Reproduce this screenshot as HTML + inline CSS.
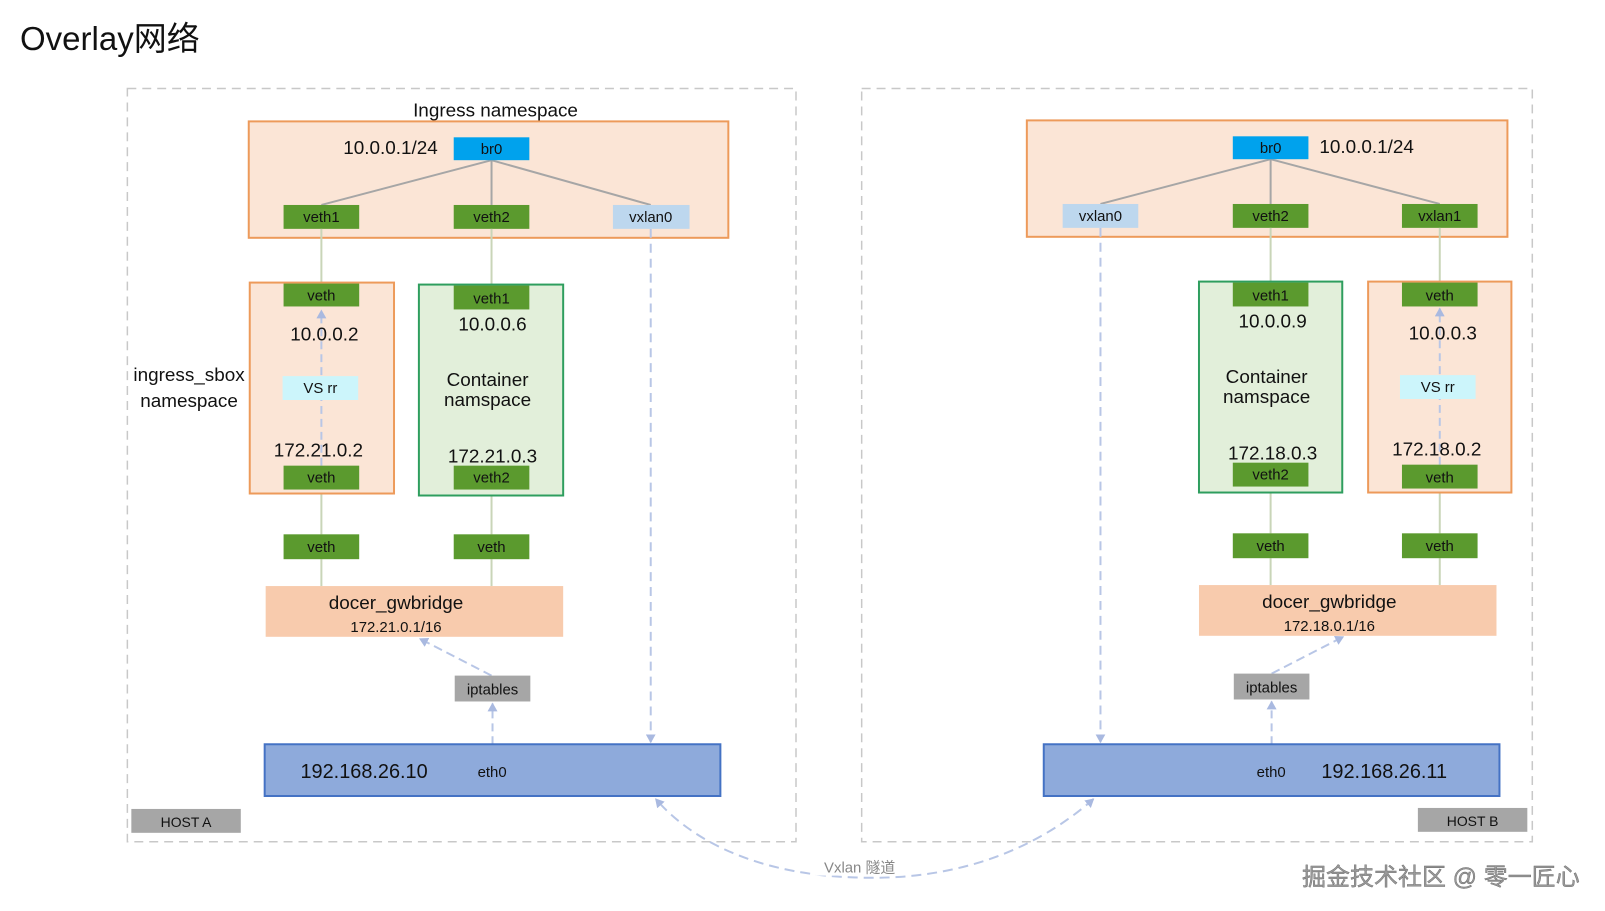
<!DOCTYPE html>
<html><head><meta charset="utf-8"><style>
html,body{margin:0;padding:0;background:#fff;}
svg{display:block;}
text{font-family:"Liberation Sans","Noto Sans CJK SC",sans-serif;}
</style></head><body>
<svg width="1605" height="911" viewBox="0 0 1605 911" xmlns="http://www.w3.org/2000/svg">
<defs>
<marker id="ar" markerWidth="10" markerHeight="10" refX="8" refY="5" orient="auto-start-reverse" markerUnits="userSpaceOnUse">
<path d="M0,0 L9,5 L0,10 z" fill="#a9b9e0"/></marker>
</defs>
<text x="20" y="50" font-size="33" fill="#111">Overlay<tspan font-family="Noto Sans CJK SC, sans-serif">网络</tspan></text>
<g transform="scale(0.995)">
<!-- host boxes -->
<rect x="128" y="89" width="672" height="757" fill="none" stroke="#c8c8c8" stroke-width="1.5" stroke-dasharray="9,6"/>
<rect x="866" y="89" width="674" height="757" fill="none" stroke="#c8c8c8" stroke-width="1.5" stroke-dasharray="9,6"/>

<!-- ===== HOST A ===== -->
<text x="498" y="117" font-size="19" text-anchor="middle" fill="#111">Ingress namespace</text>
<rect x="250" y="122" width="482" height="117" fill="#fbe5d6" stroke="#ed9a5a" stroke-width="2"/>
<text x="345" y="155" font-size="19" fill="#111">10.0.0.1/24</text>
<g stroke="#a6a6a6" stroke-width="2">
<line x1="494" y1="161" x2="323" y2="206"/><line x1="494" y1="161" x2="494" y2="206"/><line x1="494" y1="161" x2="654" y2="206"/>
</g>
<rect x="456" y="138" width="76" height="23" fill="#00a2ed"/><text x="494" y="155" font-size="15" text-anchor="middle" fill="#111">br0</text>
<g font-size="15" text-anchor="middle" fill="#111">
<rect x="285" y="206" width="76" height="24" fill="#5b9a2e"/><text x="323" y="223">veth1</text>
<rect x="456" y="206" width="76" height="24" fill="#5b9a2e"/><text x="494" y="223">veth2</text>
<rect x="616" y="206" width="77" height="24" fill="#bdd7ee"/><text x="654" y="223">vxlan0</text>
</g>
<g stroke="#c9d5b8" stroke-width="2">
<line x1="323" y1="230" x2="323" y2="285"/><line x1="494" y1="230" x2="494" y2="287"/>
<line x1="323" y1="492" x2="323" y2="537"/><line x1="494" y1="492" x2="494" y2="537"/>
<line x1="323" y1="562" x2="323" y2="589"/><line x1="494" y1="562" x2="494" y2="589"/>
</g>
<!-- sbox A -->
<text x="190" y="383" font-size="19" text-anchor="middle" fill="#111">ingress_sbox</text>
<text x="190" y="409" font-size="19" text-anchor="middle" fill="#111">namespace</text>
<rect x="251" y="284" width="145" height="212" fill="#fbe5d6" stroke="#ed9a5a" stroke-width="2"/>
<line x1="323" y1="468" x2="323" y2="312" stroke="#b8c6e6" stroke-width="2" stroke-dasharray="8,5" marker-end="url(#ar)"/>
<g font-size="15" text-anchor="middle" fill="#111">
<rect x="285" y="285" width="76" height="23" fill="#5b9a2e"/><text x="323" y="302">veth</text>
<rect x="284" y="378" width="76" height="24" fill="#ccf5fb"/><text x="322" y="395">VS rr</text>
<rect x="285" y="468" width="76" height="24" fill="#5b9a2e"/><text x="323" y="485">veth</text>
</g>
<text x="326" y="342" font-size="19" text-anchor="middle" fill="#111">10.0.0.2</text>
<text x="320" y="459" font-size="19" text-anchor="middle" fill="#111">172.21.0.2</text>
<!-- container A -->
<rect x="421" y="286" width="145" height="212" fill="#e2efda" stroke="#2e9e5e" stroke-width="2"/>
<g font-size="15" text-anchor="middle" fill="#111">
<rect x="456" y="287" width="76" height="24" fill="#5b9a2e"/><text x="494" y="305">veth1</text>
<rect x="456" y="468" width="76" height="24" fill="#5b9a2e"/><text x="494" y="485">veth2</text>
</g>
<text x="495" y="332" font-size="19" text-anchor="middle" fill="#111">10.0.0.6</text>
<text x="490" y="388" font-size="19" text-anchor="middle" fill="#111">Container</text>
<text x="490" y="408" font-size="19" text-anchor="middle" fill="#111">namspace</text>
<text x="495" y="465" font-size="19" text-anchor="middle" fill="#111">172.21.0.3</text>
<g font-size="15" text-anchor="middle" fill="#111">
<rect x="285" y="537" width="76" height="25" fill="#5b9a2e"/><text x="323" y="555">veth</text>
<rect x="456" y="537" width="76" height="25" fill="#5b9a2e"/><text x="494" y="555">veth</text>
</g>
<rect x="267" y="589" width="299" height="51" fill="#f8cbad"/>
<text x="398" y="612" font-size="19" text-anchor="middle" fill="#111">docer_gwbridge</text>
<text x="398" y="635" font-size="15" text-anchor="middle" fill="#111">172.21.0.1/16</text>
<line x1="494" y1="679" x2="422" y2="642" stroke="#b8c6e6" stroke-width="2" stroke-dasharray="9,5" marker-end="url(#ar)"/>
<rect x="457" y="679" width="76" height="26" fill="#a6a6a6"/><text x="495" y="698" font-size="15" text-anchor="middle" fill="#111">iptables</text>
<line x1="495" y1="748" x2="495" y2="707" stroke="#b8c6e6" stroke-width="2" stroke-dasharray="8,5" marker-end="url(#ar)"/>
<line x1="654" y1="230" x2="654" y2="746" stroke="#b8c6e6" stroke-width="2" stroke-dasharray="9,6" marker-end="url(#ar)"/>
<rect x="266" y="748" width="458" height="52" fill="#8eaadb" stroke="#4472c4" stroke-width="2"/>
<text x="302" y="782" font-size="20" fill="#111">192.168.26.10</text>
<text x="480" y="781" font-size="15" fill="#111">eth0</text>
<rect x="132" y="813" width="110" height="24" fill="#a6a6a6"/><text x="187" y="831" font-size="14" text-anchor="middle" fill="#111">HOST  A</text>

<!-- ===== HOST B ===== -->
<rect x="1032" y="121" width="483" height="117" fill="#fbe5d6" stroke="#ed9a5a" stroke-width="2"/>
<g stroke="#a6a6a6" stroke-width="2">
<line x1="1277" y1="160" x2="1106" y2="205"/><line x1="1277" y1="160" x2="1277" y2="205"/><line x1="1277" y1="160" x2="1447" y2="205"/>
</g>
<rect x="1239" y="137" width="76" height="23" fill="#00a2ed"/><text x="1277" y="154" font-size="15" text-anchor="middle" fill="#111">br0</text>
<text x="1326" y="154" font-size="19" fill="#111">10.0.0.1/24</text>
<g font-size="15" text-anchor="middle" fill="#111">
<rect x="1068" y="205" width="76" height="24" fill="#bdd7ee"/><text x="1106" y="222">vxlan0</text>
<rect x="1239" y="205" width="76" height="24" fill="#5b9a2e"/><text x="1277" y="222">veth2</text>
<rect x="1409" y="205" width="76" height="24" fill="#5b9a2e"/><text x="1447" y="222">vxlan1</text>
</g>
<g stroke="#c9d5b8" stroke-width="2">
<line x1="1277" y1="229" x2="1277" y2="284"/><line x1="1447" y1="229" x2="1447" y2="284"/>
<line x1="1277" y1="489" x2="1277" y2="536"/><line x1="1447" y1="491" x2="1447" y2="536"/>
<line x1="1277" y1="561" x2="1277" y2="588"/><line x1="1447" y1="561" x2="1447" y2="588"/>
</g>
<rect x="1205" y="283" width="144" height="212" fill="#e2efda" stroke="#2e9e5e" stroke-width="2"/>
<g font-size="15" text-anchor="middle" fill="#111">
<rect x="1239" y="284" width="76" height="24" fill="#5b9a2e"/><text x="1277" y="302">veth1</text>
<rect x="1239" y="465" width="76" height="24" fill="#5b9a2e"/><text x="1277" y="482">veth2</text>
</g>
<text x="1279" y="329" font-size="19" text-anchor="middle" fill="#111">10.0.0.9</text>
<text x="1273" y="385" font-size="19" text-anchor="middle" fill="#111">Container</text>
<text x="1273" y="405" font-size="19" text-anchor="middle" fill="#111">namspace</text>
<text x="1279" y="462" font-size="19" text-anchor="middle" fill="#111">172.18.0.3</text>
<rect x="1375" y="283" width="144" height="212" fill="#fbe5d6" stroke="#ed9a5a" stroke-width="2"/>
<line x1="1447" y1="467" x2="1447" y2="310" stroke="#b8c6e6" stroke-width="2" stroke-dasharray="8,5" marker-end="url(#ar)"/>
<g font-size="15" text-anchor="middle" fill="#111">
<rect x="1409" y="284" width="76" height="24" fill="#5b9a2e"/><text x="1447" y="302">veth</text>
<rect x="1407" y="377" width="76" height="24" fill="#ccf5fb"/><text x="1445" y="394">VS rr</text>
<rect x="1409" y="467" width="76" height="24" fill="#5b9a2e"/><text x="1447" y="485">veth</text>
</g>
<text x="1450" y="341" font-size="19" text-anchor="middle" fill="#111">10.0.0.3</text>
<text x="1444" y="458" font-size="19" text-anchor="middle" fill="#111">172.18.0.2</text>
<g font-size="15" text-anchor="middle" fill="#111">
<rect x="1239" y="536" width="76" height="25" fill="#5b9a2e"/><text x="1277" y="554">veth</text>
<rect x="1409" y="536" width="76" height="25" fill="#5b9a2e"/><text x="1447" y="554">veth</text>
</g>
<rect x="1205" y="588" width="299" height="51" fill="#f8cbad"/>
<text x="1336" y="611" font-size="19" text-anchor="middle" fill="#111">docer_gwbridge</text>
<text x="1336" y="634" font-size="15" text-anchor="middle" fill="#111">172.18.0.1/16</text>
<line x1="1278" y1="677" x2="1350" y2="640" stroke="#b8c6e6" stroke-width="2" stroke-dasharray="9,5" marker-end="url(#ar)"/>
<rect x="1240" y="677" width="76" height="26" fill="#a6a6a6"/><text x="1278" y="696" font-size="15" text-anchor="middle" fill="#111">iptables</text>
<line x1="1278" y1="748" x2="1278" y2="705" stroke="#b8c6e6" stroke-width="2" stroke-dasharray="8,5" marker-end="url(#ar)"/>
<line x1="1106" y1="229" x2="1106" y2="746" stroke="#b8c6e6" stroke-width="2" stroke-dasharray="9,6" marker-end="url(#ar)"/>
<rect x="1049" y="748" width="458" height="52" fill="#8eaadb" stroke="#4472c4" stroke-width="2"/>
<text x="1263" y="781" font-size="15" fill="#111">eth0</text>
<text x="1328" y="782" font-size="20" fill="#111">192.168.26.11</text>
<rect x="1425" y="812" width="110" height="24" fill="#a6a6a6"/><text x="1480" y="830" font-size="14" text-anchor="middle" fill="#111">HOST  B</text>

<!-- vxlan tunnel -->
<path d="M1099,803 C1040,855 960,885 864,882 C770,880 700,850 659,803" fill="none" stroke="#b8c6e6" stroke-width="2" stroke-dasharray="10,6" marker-start="url(#ar)" marker-end="url(#ar)"/>
<rect x="820" y="858" width="88" height="22" fill="#fff"/>
<text x="864" y="877" font-size="15" text-anchor="middle" fill="#888">Vxlan 隧道</text>
</g>
<text x="1302" y="885" font-size="24" fill="#999" stroke="#666" stroke-width="0.4">掘金技术社区 @ 零一匠心</text>
</svg>
</body></html>
